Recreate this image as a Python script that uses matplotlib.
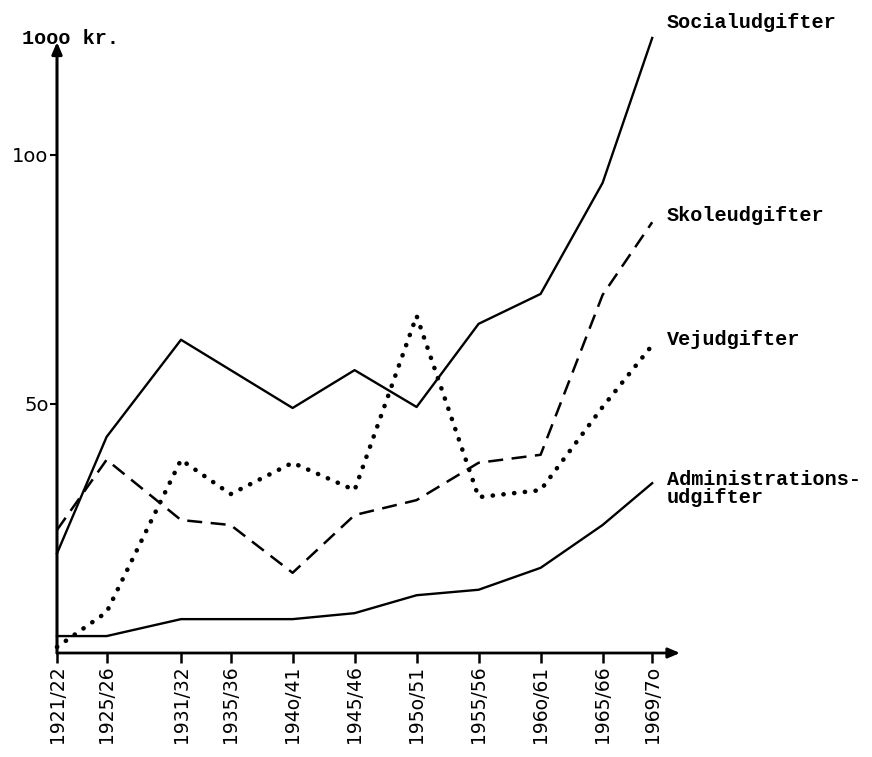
import matplotlib
matplotlib.use("Agg")
import matplotlib.pyplot as plt

# ---- data (1000 kr.) ----
tick_years = [1921.5, 1925.5, 1931.5, 1935.5, 1940.5, 1945.5, 1950.5, 1955.5, 1960.5, 1965.5, 1969.5]
tick_labels = ["1921/22", "1925/26", "1931/32", "1935/36", "194o/41", "1945/46",
               "195o/51", "1955/56", "196o/61", "1965/66", "1969/7o"]

social_x = [1921.5, 1925.5, 1931.5, 1940.5, 1945.5, 1950.5, 1955.5, 1960.5, 1965.5, 1969.5]
social_y = [20.0, 43.4, 62.9, 49.2, 56.8, 49.4, 66.1, 72.1, 94.4, 123.5]

skole_x = [1921.5, 1925.5, 1931.5, 1935.5, 1940.5, 1945.5, 1950.5, 1955.5, 1960.5, 1965.5, 1969.5]
skole_y = [24.7, 38.8, 26.7, 25.7, 16.1, 27.7, 30.7, 38.2, 39.8, 71.9, 86.5]

vej_x = [1921.5, 1925.5, 1931.5, 1935.5, 1940.5, 1945.5, 1950.5, 1955.5, 1960.5, 1965.5, 1969.5]
vej_y = [1.2, 8.2, 38.8, 31.9, 38.2, 32.7, 67.7, 31.3, 32.7, 49.4, 61.8]

adm_x = [1921.5, 1925.5, 1931.5, 1940.5, 1945.5, 1950.5, 1955.5, 1960.5, 1965.5, 1969.5]
adm_y = [3.4, 3.4, 6.8, 6.8, 8.0, 11.6, 12.7, 17.1, 25.7, 34.1]

y_ticks = [50, 100]
y_tick_labels = ["5o", "1oo"]

W, H = 872, 757
fig = plt.figure(figsize=(W / 100, H / 100), dpi=100)
x0_px, x1_px = 57, 680
y0_px, y1_px = 653, 42
ax = fig.add_axes([x0_px / W, (H - y0_px) / H, (x1_px - x0_px) / W, (y0_px - y1_px) / H])
px_per_year = 12.4
px_per_unit = 4.98
ax.set_xlim(1921.5, 1921.5 + (x1_px - x0_px) / px_per_year)
ax.set_ylim(0, (y0_px - y1_px) / px_per_unit)

for s in ax.spines.values():
    s.set_visible(False)

# axes arrows
ax.annotate("", xy=(1, 0), xytext=(0, 0), xycoords="axes fraction",
            arrowprops=dict(arrowstyle="-|>,head_length=0.7,head_width=0.3", lw=2.0, color="black",
                            shrinkA=0, shrinkB=0))
ax.annotate("", xy=(0, 1), xytext=(0, 0), xycoords="axes fraction",
            arrowprops=dict(arrowstyle="-|>,head_length=0.7,head_width=0.3", lw=2.2, color="black",
                            shrinkA=0, shrinkB=0))

lc = "black"
ax.plot(social_x, social_y, color=lc, lw=1.7, clip_on=False)
ax.plot(skole_x, skole_y, color=lc, lw=1.8, linestyle=(0, (6.0, 3.4)), clip_on=False)
ax.plot(vej_x, vej_y, color=lc, lw=3.3, linestyle=(0, (0.05, 2.3)),
        dash_capstyle="round", clip_on=False)
ax.plot(adm_x, adm_y, color=lc, lw=1.7, clip_on=False)

ax.set_xticks(tick_years)
ax.set_xticklabels(tick_labels, rotation=90, fontsize=13.5, fontfamily="DejaVu Sans")
ax.set_yticks(y_ticks)
ax.set_yticklabels(y_tick_labels, fontsize=14, fontfamily="DejaVu Sans")
ax.tick_params(axis="x", direction="out", length=7, width=1.8, pad=2)
ax.tick_params(axis="y", direction="out", length=5, width=1.5, pad=1)

tf = dict(fontfamily="Liberation Mono", fontweight="bold", fontsize=14.5, color="black")
fig.text(22 / W, 1 - 44 / H, "1ooo kr.", **tf)
fig.text(667 / W, 1 - 28 / H, "Socialudgifter", **tf)
fig.text(667 / W, 1 - 221 / H, "Skoleudgifter", **tf)
fig.text(667 / W, 1 - 345 / H, "Vejudgifter", **tf)
fig.text(667 / W, 1 - 503 / H, "Administrations-\nudgifter", linespacing=0.95, **tf)

fig.savefig("out.png", dpi=100)
